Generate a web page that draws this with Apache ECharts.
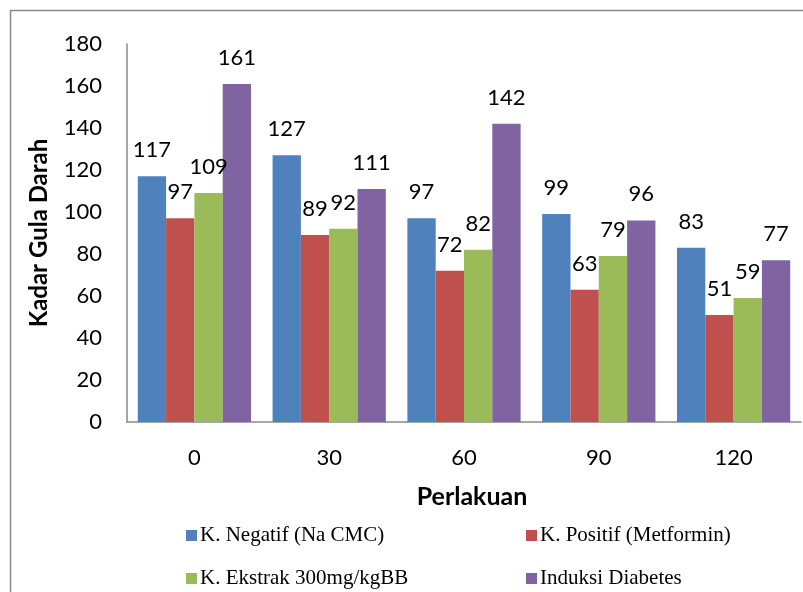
<!DOCTYPE html>
<html>
<head>
<meta charset="utf-8">
<script src="https://cdn.jsdelivr.net/npm/echarts@6/dist/echarts.min.js"></script>
<style>
    html, body { margin: 0; padding: 0; background: #fff; }
    #chart { width: 803px; height: 592px; }
</style>
</head>
<body>
<div id="chart"></div>
<script>
    // waktu perlakuan (menit)
    const categories = ['0', '30', '60', '90', '120'];
    const seriesNames = ['K. Negatif (Na CMC)', 'K. Positif (Metformin)', 'K. Ekstrak 300mg/kgBB', 'Induksi Diabetes'];
    const negatif = [117, 127, 97, 99, 83];
    const positif = [97, 89, 72, 63, 51];
    const ekstrak = [109, 92, 82, 79, 59];
    const induksi = [161, 111, 142, 96, 77];
    const colors = ['#4F81BD', '#C0504D', '#9BBB59', '#8064A2'];

    const myChart = echarts.init(document.getElementById('chart'));
    const sans = 'Lato';
    const serif = 'Liberation Serif';

    function makeSeries(name, data, color) {
        return {
            name: name,
            type: 'bar',
            data: data,
            barGap: '0%',
            barCategoryGap: '16%',
            itemStyle: { color: color },
            label: {
                show: true,
                position: 'top',
                distance: 15,
                fontFamily: sans,
                fontSize: 22,
                color: '#000'
            }
        };
    }

    // satu legend per item supaya posisinya bisa diatur
    function makeLegend(name, left, top) {
        return {
            data: [name],
            left: left,
            top: top,
            padding: 0,
            itemWidth: 11,
            itemHeight: 11,
            icon: 'rect',
            selectedMode: false,
            textStyle: { fontFamily: serif, fontSize: 21, color: '#000', padding: [0, 0, 0, -2] }
        };
    }

    const option = {
        animation: false,
        color: colors,
        graphic: [{
            type: 'rect',
            shape: { x: 10.5, y: 10.5, width: 900, height: 700 },
            style: { fill: 'none', stroke: '#8a8a8a', lineWidth: 1.5 },
            silent: true
        }],
        legend: [
            makeLegend(seriesNames[0], 186, 525),
            makeLegend(seriesNames[1], 526, 525),
            makeLegend(seriesNames[2], 186, 568),
            makeLegend(seriesNames[3], 526, 568)
        ],
        grid: { left: 127, right: 2, top: 44, bottom: 170, containLabel: false },
        xAxis: {
            type: 'category',
            data: categories,
            name: 'Perlakuan',
            nameLocation: 'middle',
            nameGap: 62,
            nameTextStyle: { fontFamily: sans, fontSize: 25, fontWeight: 'bold', color: '#000', padding: [0, 0, 0, 16] },
            axisLine: { lineStyle: { color: '#898989', width: 1.5 } },
            axisTick: { show: false },
            axisLabel: { fontFamily: sans, fontSize: 22, color: '#000', margin: 25 }
        },
        yAxis: {
            type: 'value',
            min: 0,
            max: 180,
            interval: 20,
            name: 'Kadar Gula Darah',
            nameLocation: 'middle',
            nameRotate: 90,
            nameGap: 76,
            nameTextStyle: { fontFamily: sans, fontSize: 24, fontWeight: 'bold', color: '#000' },
            axisLine: { show: true, lineStyle: { color: '#898989', width: 1.5 } },
            axisTick: { show: false },
            splitLine: { show: false },
            axisLabel: { fontFamily: sans, fontSize: 22, color: '#000', margin: 25 }
        },
        series: [
            makeSeries(seriesNames[0], negatif, colors[0]),
            makeSeries(seriesNames[1], positif, colors[1]),
            makeSeries(seriesNames[2], ekstrak, colors[2]),
            makeSeries(seriesNames[3], induksi, colors[3])
        ]
    };

    myChart.setOption(option);
</script>
</body>
</html>
